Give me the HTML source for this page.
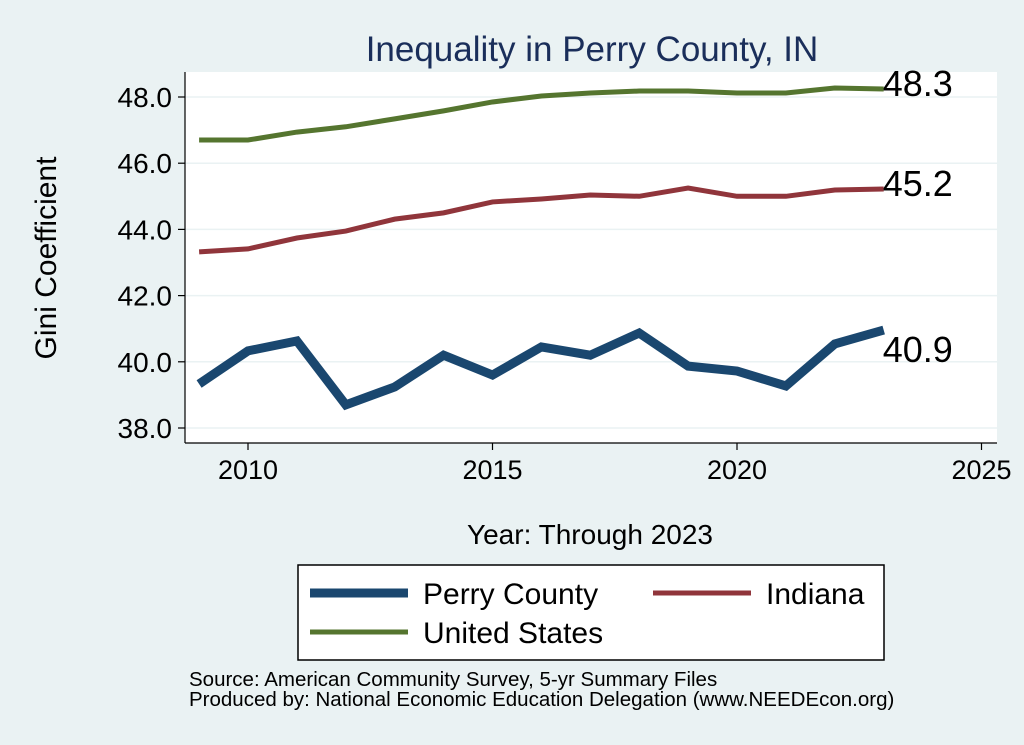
<!DOCTYPE html>
<html><head><meta charset="utf-8"><style>
body{margin:0;background:#eaf2f3;font-family:"Liberation Sans",sans-serif;}
svg{display:block}
</style></head><body>
<svg width="1024" height="745">
<rect x="0" y="0" width="1024" height="745" fill="#eaf2f3"/>
<text x="592" y="61" font-size="35" fill="#1a2e5a" text-anchor="middle">Inequality in Perry County, IN</text>
<rect x="185" y="72" width="812" height="371" fill="#fff"/>
<g id="grid"></g><g id="axes"></g><g id="series"></g>
<text transform="translate(56,258) rotate(-90)" font-size="30" text-anchor="middle" fill="#000">Gini Coefficient</text>
<text x="590" y="544" font-size="28" text-anchor="middle" fill="#000">Year: Through 2023</text>
<g>
<rect x="298" y="565" width="586" height="95" fill="#fff" stroke="#000" stroke-width="1.5"/>
<g><line x1="310" y1="593" x2="408" y2="593" stroke="#1a476f" stroke-width="9"/><text x="423" y="604" font-size="30">Perry County</text></g>
<g><line x1="653" y1="593" x2="751" y2="593" stroke="#90353b" stroke-width="5"/><text x="766" y="604" font-size="30">Indiana</text></g>
<g><line x1="310" y1="632" x2="408" y2="632" stroke="#55752f" stroke-width="5"/><text x="423" y="643" font-size="30">United States</text></g>
</g>
<text x="189" y="686" font-size="20.5">Source: American Community Survey, 5-yr Summary Files</text>
<text x="189" y="706" font-size="20.5">Produced by: National Economic Education Delegation (www.NEEDEcon.org)</text>
</svg>
<script>
const years=[2009,2010,2011,2012,2013,2014,2015,2016,2017,2018,2019,2020,2021,2022,2023];
const perry=[39.33,40.33,40.63,38.70,39.24,40.20,39.60,40.45,40.20,40.87,39.87,39.72,39.27,40.54,40.96];
const indiana=[43.32,43.41,43.74,43.95,44.31,44.50,44.83,44.92,45.04,45.00,45.25,45.00,45.00,45.19,45.22];
const us=[46.70,46.70,46.94,47.10,47.34,47.58,47.85,48.03,48.12,48.18,48.18,48.12,48.12,48.27,48.24];
const yTicks=[38,40,42,44,46,48];
const xTicks=[2010,2015,2020,2025];
const labels=["40.9","45.2","48.3"];
const NS="http://www.w3.org/2000/svg";
const X=v=>248+(v-2010)*48.9;
const Y=v=>97+(48-v)*33.1;
function mk(tag,attrs,parent,text){const e=document.createElementNS(NS,tag);for(const k in attrs)e.setAttribute(k,attrs[k]);if(text!==undefined)e.textContent=text;document.getElementById(parent).appendChild(e);return e;}
yTicks.forEach(t=>{
 const g=mk('line',{x1:185,x2:997,y1:Y(t),y2:Y(t),stroke:'#eaf2f3','stroke-width':1.5},'grid');
 
 
 const tk=mk('line',{x1:178,x2:185,y1:Y(t),y2:Y(t),stroke:'#000','stroke-width':1.2},'axes');
 
 
 const l=mk('text',{x:172,y:Y(t)+10,'font-size':28,'text-anchor':'end'},'axes',t.toFixed(1));
 
 
});
const ya=mk('line',{x1:185,x2:185,y1:72,y2:443,stroke:'#000','stroke-width':1.2},'axes');


const xa=mk('line',{x1:185,x2:997,y1:443,y2:443,stroke:'#000','stroke-width':1.2},'axes');


xTicks.forEach(t=>{
 const tk=mk('line',{x1:X(t),x2:X(t),y1:443,y2:450,stroke:'#000','stroke-width':1.2},'axes');
 
 
 const l=mk('text',{x:X(t),y:479,'font-size':27,'text-anchor':'middle'},'axes',String(t));
 
 
});
const series=[[perry,'#1a476f',9,'perry-county-line'],[indiana,'#90353b',5,'indiana-line'],[us,'#55752f',5,'united-states-line']];
series.forEach((s,i)=>{
 const d=s[0].map((v,j)=>(j?'L':'M')+X(years[j])+','+Y(v)).join('');
 const p=mk('path',{d:d,fill:'none',stroke:s[1],'stroke-width':s[2],'stroke-linejoin':'miter'},'series');
 
 
 const last=s[0][s[0].length-1];
 const dy=i===0?32:0;
 const l=mk('text',{x:X(years[years.length-1])-1,y:Y(last)+dy+(i===0?0:7),'font-size':36},'series',labels[i]);
 
 
});
</script>
</body></html>
